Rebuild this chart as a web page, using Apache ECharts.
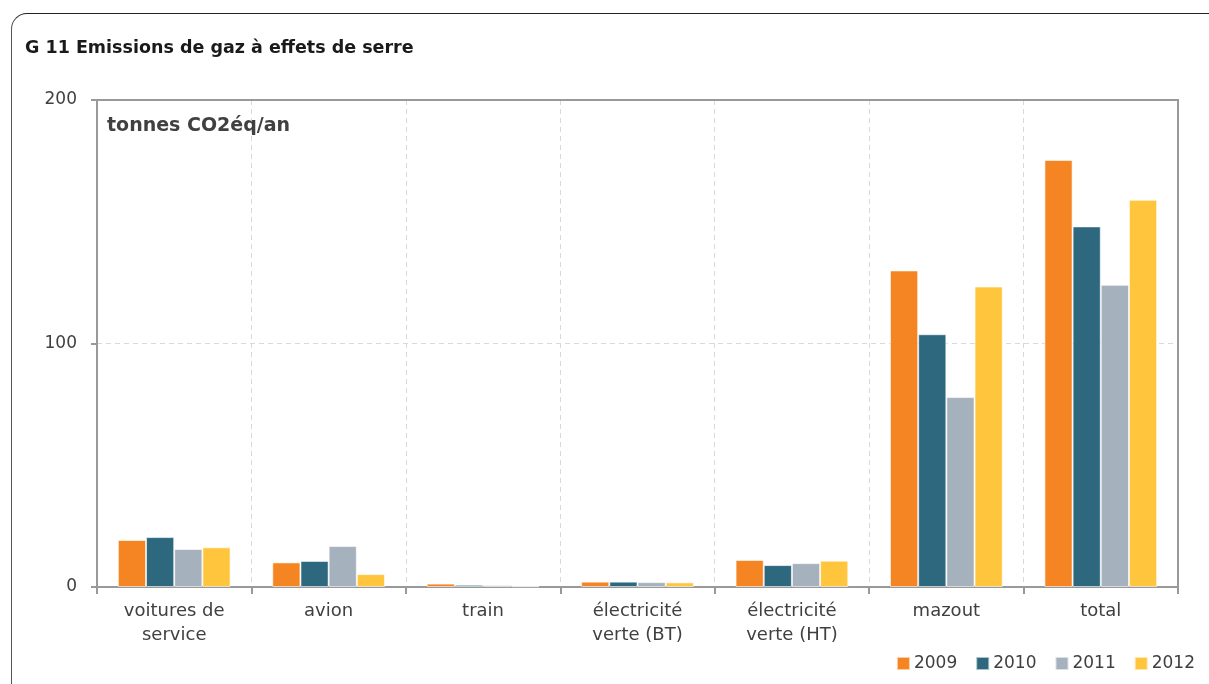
<!DOCTYPE html>
<html>
<head>
<meta charset="utf-8">
<script src="https://cdn.jsdelivr.net/npm/echarts@6/dist/echarts.min.js"></script>
<style>
html,body{margin:0;padding:0;background:#fff;}
#wrap{position:relative;width:1209px;height:684px;overflow:hidden;}
#frame{position:absolute;left:11px;top:13px;width:1220px;height:700px;border-top:1.5px solid #222;border-left:1.5px solid #555;border-top-left-radius:16px;box-sizing:border-box;}
#chart{position:absolute;left:0;top:0;width:1209px;height:684px;}
</style>
</head>
<body>
<div id="wrap"><div id="frame"></div><div id="chart"></div></div>
<script>
const categories = ['voitures de\nservice', 'avion', 'train', 'électricité\nverte (BT)', 'électricité\nverte (HT)', 'mazout', 'total'];
const years = ['2009', '2010', '2011', '2012'];
const v2009 = [19.3, 10.1, 1.4, 2.2, 11.1, 130, 175.4];
const v2010 = [20.5, 10.7, 0.9, 2.2, 9.0, 103.8, 148.1];
const v2011 = [15.6, 16.8, 0.8, 2.0, 9.8, 78, 124.1];
const v2012 = [16.3, 5.3, 0.3, 1.9, 10.8, 123.4, 159];
const yTicks = [0, 100, 200];
const colors = ['#F58523', '#2E687E', '#A6B1BE', '#FFC53D'];

const font = '"DejaVu Sans", "Open Sans", sans-serif';
const chart = echarts.init(document.getElementById('chart'));
const seriesData = [v2009, v2010, v2011, v2012];
const axisLineStyle = {color: '#999', width: 2};
const splitStyle = {color: '#d9d9d9', type: [5, 4], width: 1};
chart.setOption({
  animation: false,
  textStyle: {fontFamily: font},
  title: [
    {text: 'G 11 Emissions de gaz à effets de serre', left: 20, top: 34,
     textStyle: {fontFamily: font, fontSize: 17.5, fontWeight: 'bold', color: '#1a1a1a'}},
    {text: 'tonnes CO2éq/an', left: 102, top: 112,
     textStyle: {fontFamily: font, fontSize: 19, fontWeight: 'bold', color: '#404040'}}
  ],
  legend: {
    data: years, right: 9, top: 650, icon: 'rect', itemWidth: 13, itemHeight: 13, itemGap: 18,
    textStyle: {fontFamily: font, fontSize: 17, color: '#404040', padding: [0, 0, 0, -1]}
  },
  grid: {left: 97, right: 31, top: 100, bottom: 97, containLabel: false},
  xAxis: [
    {type: 'category', data: categories,
     axisLine: {lineStyle: axisLineStyle},
     axisTick: {show: true, length: 7, lineStyle: axisLineStyle},
     axisLabel: {fontFamily: font, fontSize: 18, color: '#404040', margin: 12, lineHeight: 24, interval: 0},
     splitLine: {show: true, showMinLine: false, showMaxLine: false, lineStyle: splitStyle}},
    {type: 'category', data: categories, position: 'top',
     axisLine: {show: true, onZero: false, lineStyle: axisLineStyle},
     axisTick: {show: false}, axisLabel: {show: false}, splitLine: {show: false}}
  ],
  yAxis: [
    {type: 'value', min: 0, max: 200, interval: 100,
     axisLine: {show: true, lineStyle: axisLineStyle},
     axisTick: {show: true, length: 6, lineStyle: axisLineStyle},
     axisLabel: {fontFamily: font, fontSize: 17, color: '#404040', margin: 20,
       formatter: v => yTicks.includes(v) ? String(v) : ''},
     splitLine: {show: true, showMinLine: false, showMaxLine: false, lineStyle: splitStyle}},
    {type: 'value', min: 0, max: 200, interval: 100, position: 'right',
     axisLine: {show: true, onZero: false, lineStyle: axisLineStyle},
     axisTick: {show: false}, axisLabel: {show: false}, splitLine: {show: false}}
  ],
  series: years.map((y, i) => ({
    name: y, type: 'bar', data: seriesData[i],
    barGap: '0%', barCategoryGap: '27%',
    itemStyle: {color: colors[i], borderColor: 'rgba(255,255,255,0.6)', borderWidth: 1}
  }))
});
</script>
</body>
</html>
